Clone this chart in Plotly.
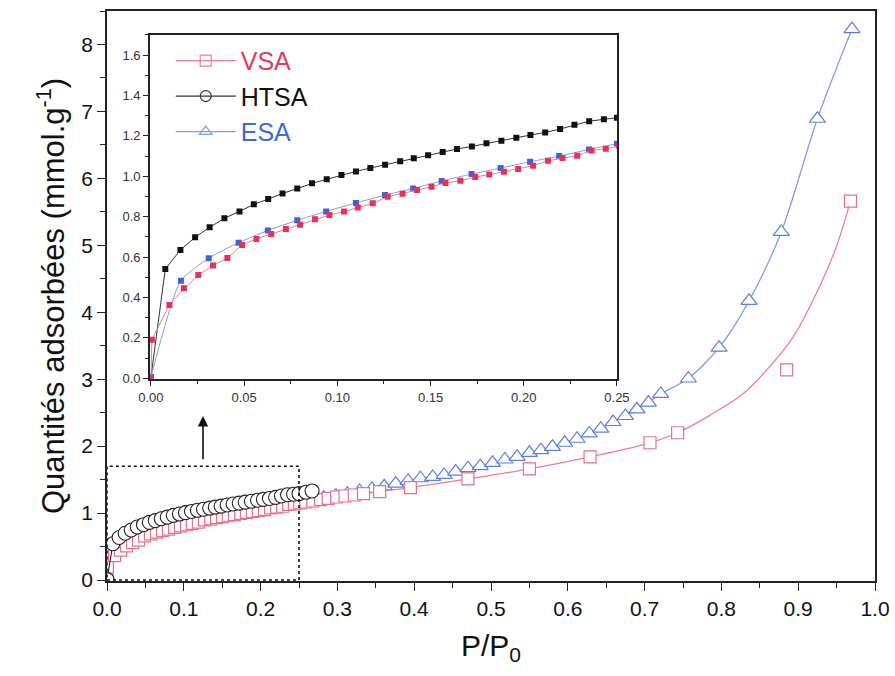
import plotly.graph_objects as go

# ---------------- data ----------------
htsa_x = [0.0, 0.0077, 0.0158, 0.0237, 0.0315, 0.0394, 0.0475, 0.0552, 0.0629, 0.0706,
          0.0785, 0.0864, 0.0943, 0.1022, 0.110, 0.1177, 0.1256, 0.1337, 0.141, 0.1487,
          0.1565, 0.1642, 0.1722, 0.180, 0.188, 0.196, 0.2036, 0.2115, 0.2195, 0.2272,
          0.2351, 0.243, 0.250, 0.259, 0.267]
htsa_y = [0.005, 0.541, 0.635, 0.698, 0.747, 0.792, 0.826, 0.861, 0.887, 0.915,
          0.939, 0.965, 0.985, 1.006, 1.024, 1.041, 1.057, 1.074, 1.089, 1.104,
          1.120, 1.135, 1.148, 1.163, 1.176, 1.191, 1.204, 1.217, 1.234, 1.255,
          1.273, 1.282, 1.290, 1.310, 1.330]

vsa_x = [0.0, 0.0005, 0.0099, 0.0177, 0.0254, 0.0333, 0.041, 0.0489, 0.0566, 0.0645,
         0.0724, 0.080, 0.088, 0.0957, 0.1036, 0.111, 0.119, 0.127, 0.135, 0.1427,
         0.1505, 0.158, 0.166, 0.174, 0.1815, 0.1894, 0.197, 0.205, 0.213, 0.2208,
         0.2287, 0.2364, 0.244, 0.251,
         0.259, 0.268, 0.278, 0.288, 0.299, 0.310, 0.322, 0.334, 0.355, 0.395,
         0.470, 0.550, 0.629, 0.707, 0.743, 0.885, 0.968]
vsa_y = [0.0, 0.191, 0.363, 0.445, 0.511, 0.558, 0.595, 0.660, 0.690, 0.714,
         0.739, 0.760, 0.787, 0.808, 0.825, 0.846, 0.866, 0.899, 0.914, 0.932,
         0.948, 0.967, 0.978, 0.996, 1.009, 1.023, 1.036, 1.052, 1.077, 1.090,
         1.102, 1.128, 1.136, 1.151,
         1.165, 1.180, 1.200, 1.220, 1.240, 1.255, 1.270, 1.290, 1.320, 1.380,
         1.510, 1.660, 1.840, 2.050, 2.200, 3.140, 5.660]

# smoothed VSA curve at high pressure (drawn line)
vsa_fit_x = [0.785, 0.829, 0.863, 0.894, 0.924, 0.950, 0.968]
vsa_fit_y = [2.46, 2.79, 3.19, 3.64, 4.29, 4.99, 5.66]

esa_x = [0.0, 0.0161, 0.031, 0.047, 0.0627, 0.0785, 0.094, 0.110, 0.1256, 0.1407,
         0.156, 0.172, 0.1876, 0.2034, 0.219, 0.235, 0.250,
         0.266, 0.282, 0.298, 0.313, 0.329, 0.345, 0.361, 0.376,
         0.392, 0.408, 0.424, 0.439, 0.454, 0.470, 0.486, 0.502, 0.518, 0.534,
         0.550, 0.565, 0.580, 0.596, 0.612, 0.628, 0.643, 0.659, 0.675, 0.690,
         0.705, 0.721, 0.757, 0.797, 0.836, 0.878, 0.925, 0.970]
esa_y = [0.005, 0.483, 0.594, 0.671, 0.732, 0.782, 0.826, 0.868, 0.907, 0.940,
         0.977, 1.011, 1.041, 1.072, 1.100, 1.133, 1.161,
         1.19, 1.23, 1.26, 1.29, 1.33, 1.36, 1.40, 1.44,
         1.48, 1.52, 1.54, 1.57, 1.62, 1.67, 1.70, 1.75, 1.80, 1.84,
         1.90, 1.94, 1.99, 2.05, 2.11, 2.19, 2.26, 2.36, 2.45, 2.55,
         2.65, 2.78, 3.01, 3.47, 4.17, 5.20, 6.89, 8.23]

INSET_MAX = 0.252

x_ticks = [0.0, 0.1, 0.2, 0.3, 0.4, 0.5, 0.6, 0.7, 0.8, 0.9, 1.0]
y_ticks = [0, 1, 2, 3, 4, 5, 6, 7, 8]
ix_ticks = [0.0, 0.05, 0.10, 0.15, 0.20, 0.25]
iy_ticks = [0.0, 0.2, 0.4, 0.6, 0.8, 1.0, 1.2, 1.4, 1.6]

# ---------------- styling ----------------
RED_M = "#ec6f88"
RED_L = "#f27d93"
RED_T = "#e23a5a"
RED_F = "#e8305a"
BLUE_M = "#5a7fe6"
BLUE_L = "#7e9fe8"
BLUE_T = "#4169dc"
BLUE_F = "#3d63d6"
BLACK = "#111111"
FONT = "Liberation Sans, Arial, sans-serif"

fig = go.Figure()

# main plot traces
fig.add_trace(go.Scatter(
    x=esa_x, y=esa_y, mode="lines+markers", showlegend=False,
    line=dict(color=BLUE_L, width=1.3, shape="spline", smoothing=0.8),
    marker=dict(symbol="triangle-up", size=14, color="white",
                line=dict(color=BLUE_M, width=1.2)),
    xaxis="x", yaxis="y"))

vsa_line_x = [v for v in vsa_x if v <= 0.75] + vsa_fit_x
vsa_line_y = [vsa_y[i] for i, v in enumerate(vsa_x) if v <= 0.75] + vsa_fit_y
fig.add_trace(go.Scatter(
    x=vsa_line_x, y=vsa_line_y, mode="lines", showlegend=False,
    line=dict(color=RED_L, width=1.3, shape="spline", smoothing=1.0),
    xaxis="x", yaxis="y"))
fig.add_trace(go.Scatter(
    x=vsa_x, y=vsa_y, mode="markers", showlegend=False,
    marker=dict(symbol="square", size=12, color="white",
                line=dict(color=RED_M, width=1.2)),
    xaxis="x", yaxis="y"))
fig.add_trace(go.Scatter(
    x=htsa_x, y=htsa_y, mode="lines+markers", showlegend=False,
    line=dict(color=BLACK, width=1),
    marker=dict(symbol="circle", size=14, color="white",
                line=dict(color="#222222", width=1.1)),
    xaxis="x", yaxis="y"))

# inset traces
def sub(xs, ys):
    pts = [(a, b) for a, b in zip(xs, ys) if a <= INSET_MAX]
    return [p[0] for p in pts], [p[1] for p in pts]

ex, ey = sub(esa_x, esa_y)
vx, vy = sub(vsa_x, vsa_y)
hx, hy = sub(htsa_x, htsa_y)

fig.add_trace(go.Scatter(
    x=hx, y=hy, mode="lines+markers", showlegend=False,
    line=dict(color="#333333", width=1),
    marker=dict(symbol="square", size=6, color=BLACK),
    xaxis="x2", yaxis="y2"))
fig.add_trace(go.Scatter(
    x=ex, y=ey, mode="lines+markers", showlegend=False,
    line=dict(color=BLUE_L, width=1, shape="spline", smoothing=0.6),
    marker=dict(symbol="square", size=6, color=BLUE_F),
    xaxis="x2", yaxis="y2"))
fig.add_trace(go.Scatter(
    x=vx, y=vy, mode="lines+markers", showlegend=False,
    line=dict(color=RED_L, width=1),
    marker=dict(symbol="square", size=6, color=RED_F),
    xaxis="x2", yaxis="y2"))

# legend-only entries (open symbols as in the figure legend)
for nm, col, tcol, sym in [("VSA", RED_L, RED_T, "square-open"),
                           ("HTSA", "#333333", BLACK, "circle-open"),
                           ("ESA", BLUE_L, BLUE_T, "triangle-up-open")]:
    fig.add_trace(go.Scatter(
        x=[None], y=[None], mode="lines+markers",
        name='<span style="color:%s">%s</span>' % (tcol, nm),
        line=dict(color=col, width=1.2),
        marker=dict(symbol=sym, size=11, color=col, line=dict(width=1.2)),
        xaxis="x2", yaxis="y2"))

# dotted zoom box and arrow
fig.add_shape(type="rect", xref="x", yref="y", x0=0, x1=0.25, y0=0, y1=1.7,
              line=dict(color=BLACK, width=1.6, dash="dot"))
fig.add_annotation(xref="x", yref="y", axref="x", ayref="y",
                   x=0.125, y=2.45, ax=0.125, ay=1.78, text="",
                   showarrow=True, arrowhead=2, arrowsize=1.3, arrowwidth=1.6,
                   arrowcolor=BLACK)

axis_common = dict(showgrid=False, zeroline=False, showline=True, linecolor="#222222",
                   linewidth=1.6, mirror=True, ticks="outside", tickcolor="#222222",
                   tickwidth=1.4, automargin=False)

fig.update_layout(
    width=895, height=676,
    margin=dict(l=107, r=20, t=11, b=95, autoexpand=False),
    paper_bgcolor="white", plot_bgcolor="white",
    font=dict(family=FONT, color=BLACK),
    xaxis=dict(**axis_common, domain=[0, 1], range=[0, 1.0], tickvals=x_ticks,
               ticktext=["%.1f" % v for v in x_ticks], ticklen=8,
               tickfont=dict(size=21),
               minor=dict(ticks="outside", dtick=0.05, ticklen=5, tickwidth=1.2,
                          tickcolor="#222222"),
               title=dict(text="P/P<sub>0</sub>", font=dict(size=30),
                          standoff=16)),
    yaxis=dict(**axis_common, domain=[0, 1], range=[-0.015, 8.5], tickvals=y_ticks,
               ticktext=[str(v) for v in y_ticks], ticklen=8,
               tickfont=dict(size=21),
               minor=dict(ticks="outside", dtick=0.5, ticklen=5, tickwidth=1.2,
                          tickcolor="#222222"),
               title=dict(text="Quantités adsorbées (mmol.g<sup>-1</sup>)",
                          font=dict(size=31), standoff=7)),
    xaxis2=dict(**axis_common, domain=[0.056, 0.664], anchor="y2", range=[-0.0005, 0.25],
                tickvals=ix_ticks, ticktext=["%.2f" % v for v in ix_ticks], ticklen=5,
                tickfont=dict(size=13, color="#333333"),
                minor=dict(ticks="outside", dtick=0.025, ticklen=3, tickwidth=1,
                           tickcolor="#222222")),
    yaxis2=dict(**axis_common, domain=[0.354, 0.958], anchor="x2", range=[-0.005, 1.70],
                tickvals=iy_ticks, ticktext=["%.1f" % v for v in iy_ticks], ticklen=5,
                tickfont=dict(size=13, color="#333333"),
                minor=dict(ticks="outside", dtick=0.1, ticklen=3, tickwidth=1,
                           tickcolor="#222222")),
    legend=dict(x=0.083, y=0.953, xanchor="left", yanchor="top",
                bgcolor="rgba(0,0,0,0)", borderwidth=0,
                font=dict(size=25), itemwidth=60,
                tracegroupgap=2),
)

fig.write_html("out.html", config={"displayModeBar": False},
               post_script="document.body.style.margin='0px';")
